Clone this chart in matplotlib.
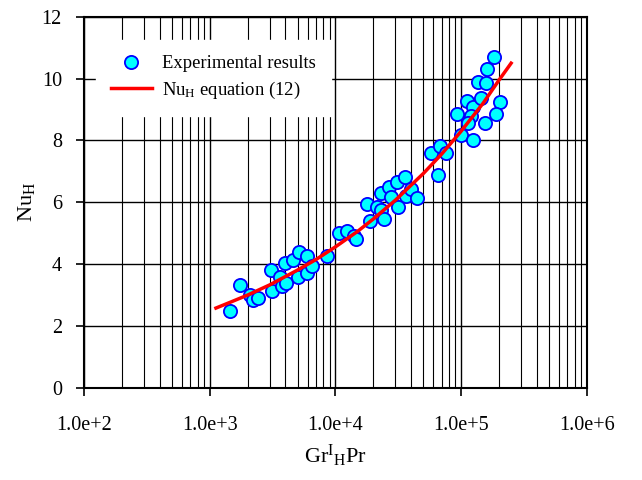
import matplotlib
matplotlib.use('Agg')
import matplotlib.pyplot as plt
from matplotlib.ticker import LogLocator, FixedLocator, FixedFormatter, NullFormatter

plt.rcParams['font.family'] = ['Liberation Serif', 'DejaVu Serif']
plt.rcParams['mathtext.fontset'] = 'custom'
plt.rcParams['mathtext.rm'] = 'Liberation Serif'
plt.rcParams['mathtext.it'] = 'Liberation Serif:italic'

# Experimental points (Gr_H Pr, Nu_H)
exp_x = [1445, 1746, 2084, 2188, 2427, 3097, 3155, 3610, 3725, 4030,
         3955, 4610, 5145, 5050, 5890, 5890, 6530, 8490, 10700, 12450,
         13990, 14690, 17860, 18980, 21580, 23220, 24230, 23220, 26720, 27870,
         30900, 31480, 35560, 36220, 40180, 44570, 57940, 67450, 75330, 65920,
         93300, 99100, 111900, 124200, 120500, 113300, 124200, 136100, 144600, 156600,
         153800, 160300, 182300, 204700, 187900]
exp_y = [2.49, 3.33, 2.99, 2.85, 2.89, 3.82, 3.12, 3.60, 3.30, 3.39,
         4.03, 4.12, 4.38, 3.58, 4.25, 3.71, 3.95, 4.28, 5.02, 5.08,
         4.91, 4.81, 5.94, 5.41, 5.86, 5.75, 5.46, 6.31, 6.51, 6.18,
         6.67, 5.84, 6.83, 6.20, 6.42, 6.13, 7.58, 7.82, 7.58, 6.89,
         8.87, 8.17, 9.27, 9.09, 8.78, 8.55, 8.03, 9.89, 9.39, 9.86,
         8.55, 10.32, 10.70, 9.25, 8.85]

# correlation curve, points
eq_x = [1120, 1500, 2000, 3000, 5000, 7000, 10000, 15000, 20000, 30000,
        50000, 70000, 100000, 150000, 200000, 250000]
eq_y = [2.58, 2.79, 3.00, 3.33, 3.81, 4.15, 4.56, 5.06, 5.46, 6.07,
        6.93, 7.56, 8.30, 9.21, 9.95, 10.50]

x_ticks = [1e2, 1e3, 1e4, 1e5, 1e6]
x_tick_labels = ['1.0e+2', '1.0e+3', '1.0e+4', '1.0e+5', '1.0e+6']
y_ticks = [0, 2, 4, 6, 8, 10, 12]

fig = plt.figure(figsize=(6.42, 4.8), dpi=100)
ax = fig.add_axes([0.131, 0.192, 0.783, 0.773])

ax.set_xscale('log')
ax.set_xlim(1e2, 1e6)
ax.set_ylim(0, 12)

ax.plot(exp_x, exp_y, 'o', ms=9.5, mfc='#00FFFF', mec='#0000FF', mew=1.3,
        label='Experimental results', zorder=3)
ax.plot(eq_x, eq_y, '-', color='#FF0000', lw=2.5,
        label=r'Nu$_{\mathrm{H}}$ equation (12)', zorder=4)

ax.xaxis.set_major_locator(FixedLocator(x_ticks))
ax.xaxis.set_major_formatter(FixedFormatter(x_tick_labels))
ax.xaxis.set_minor_locator(LogLocator(base=10, subs=range(2, 10), numticks=20))
ax.xaxis.set_minor_formatter(NullFormatter())
ax.set_yticks(y_ticks)

ax.grid(True, which='major', axis='both', color='black', lw=1.0)
ax.grid(True, which='minor', axis='x', color='black', lw=0.8)
ax.set_axisbelow(True)

ax.tick_params(axis='both', which='major', direction='out', length=6, width=1.2,
               labelsize=14.5, colors='black')
ax.tick_params(axis='x', which='minor', length=0)
ax.tick_params(axis='x', pad=14)
ax.tick_params(axis='y', pad=10)
for sp in ax.spines.values():
    sp.set_linewidth(1.5)
    sp.set_color('black')

ax.set_ylabel(r'Nu$_{\mathrm{H}}$', fontsize=16, labelpad=3)
ax.set_xlabel(r'Gr$^{\mathrm{I}}{}_{\mathrm{H}}$Pr', fontsize=16, labelpad=6)

leg = ax.legend(loc='upper left', bbox_to_anchor=(0.005, 0.962), frameon=True,
                fontsize=13.4, handlelength=2.2, handletextpad=0.55,
                borderpad=0.8, labelspacing=0.4, fancybox=False)
leg.get_frame().set_edgecolor('white')
leg.get_frame().set_facecolor('white')
leg.get_frame().set_alpha(1)

fig.savefig('out.png', dpi=100)
